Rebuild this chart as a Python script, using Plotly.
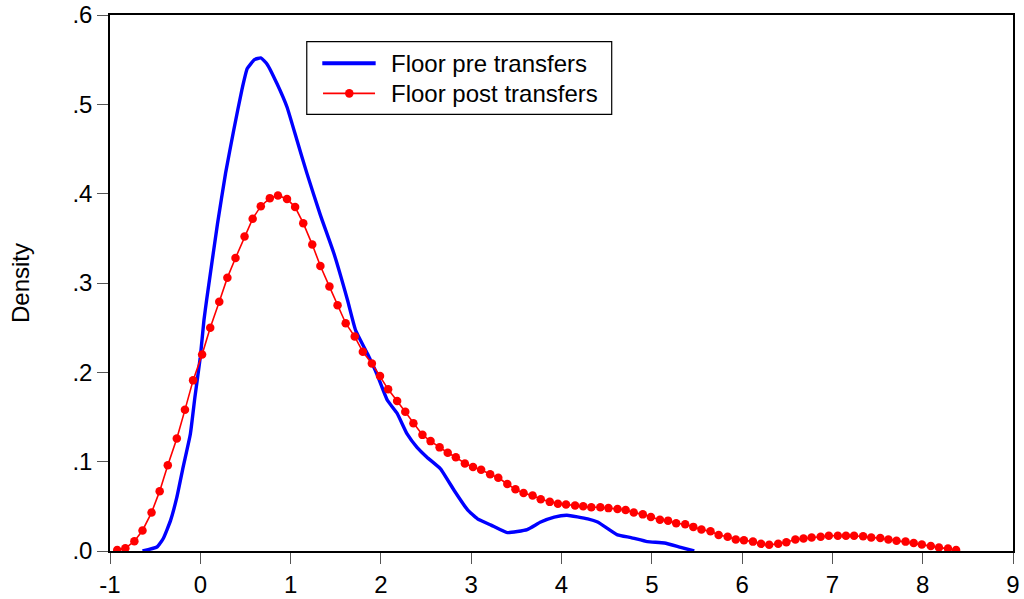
import plotly.graph_objects as go

# Blue: Floor pre transfers (kernel density)
pre_x = [-0.64, -0.48, -0.41, -0.33, -0.26, -0.19, -0.11, -0.06, 0.00, 0.04, 0.07, 0.19, 0.28, 0.37,
         0.46, 0.52, 0.60, 0.67, 0.74, 0.85, 0.96, 1.07, 1.18, 1.33, 1.48, 1.63, 1.72, 1.85, 1.96, 2.07, 2.18,
         2.29, 2.40, 2.51, 2.66, 2.81, 2.96, 3.07, 3.22, 3.40, 3.62, 3.77, 3.92, 4.06, 4.29, 4.40,
         4.62, 4.77, 4.95, 5.14, 5.32, 5.47]
pre_y = [0.000, 0.0045, 0.014, 0.034, 0.060, 0.094, 0.131, 0.172, 0.217, 0.258, 0.281, 0.366, 0.423,
         0.471, 0.516, 0.540, 0.550, 0.552, 0.545, 0.523, 0.497, 0.460, 0.423, 0.376, 0.333, 0.281, 0.247, 0.221,
         0.197, 0.169, 0.154, 0.131, 0.116, 0.105, 0.092, 0.068, 0.046, 0.036, 0.029, 0.0206, 0.024,
         0.0325, 0.038, 0.040, 0.036, 0.0325, 0.018, 0.015, 0.0105, 0.009, 0.004, 0.000]

# Red: Floor post transfers (kernel density evaluated on grid)
post_x = [-0.92, -0.83, -0.73, -0.64, -0.54, -0.45, -0.36, -0.26, -0.17, -0.08,
          0.02, 0.11, 0.21, 0.30, 0.39, 0.49, 0.58, 0.67, 0.77, 0.86,
          0.96, 1.05, 1.14, 1.24, 1.33, 1.43, 1.52, 1.61, 1.71, 1.80,
          1.90, 1.99, 2.08, 2.18, 2.27, 2.36, 2.46, 2.55, 2.65, 2.74,
          2.83, 2.93, 3.02, 3.11, 3.21, 3.30, 3.40, 3.49, 3.58, 3.68,
          3.77, 3.87, 3.96, 4.05, 4.15, 4.24, 4.33, 4.43, 4.52, 4.62,
          4.71, 4.80, 4.90, 4.99, 5.09, 5.18, 5.27, 5.37, 5.46, 5.55,
          5.65, 5.74, 5.84, 5.93, 6.02, 6.12, 6.21, 6.30, 6.40, 6.49,
          6.59, 6.68, 6.77, 6.87, 6.96, 7.06, 7.15, 7.24, 7.34, 7.43,
          7.53, 7.62, 7.71, 7.81, 7.90, 7.99, 8.09, 8.18, 8.28, 8.37]
post_y = [0.001, 0.003, 0.011, 0.023, 0.043, 0.067, 0.096, 0.126, 0.158, 0.191,
          0.220, 0.250, 0.279, 0.306, 0.328, 0.352, 0.372, 0.386, 0.395, 0.398,
          0.394, 0.385, 0.367, 0.343, 0.319, 0.296, 0.275, 0.255, 0.240, 0.223,
          0.210, 0.196, 0.181, 0.168, 0.156, 0.143, 0.130, 0.123, 0.116, 0.110,
          0.105, 0.098, 0.094, 0.091, 0.086, 0.082, 0.075, 0.069, 0.065, 0.062,
          0.058, 0.055, 0.053, 0.052, 0.051, 0.050, 0.049, 0.049, 0.048, 0.047,
          0.046, 0.043, 0.041, 0.038, 0.035, 0.034, 0.031, 0.030, 0.027, 0.024,
          0.022, 0.018, 0.016, 0.013, 0.012, 0.0105, 0.008, 0.007, 0.008, 0.0097,
          0.0128, 0.014, 0.015, 0.016, 0.017, 0.017, 0.017, 0.017, 0.0165, 0.015,
          0.0146, 0.013, 0.0116, 0.0105, 0.009, 0.0072, 0.0056, 0.004, 0.0027, 0.001]

x_ticks = [-1, 0, 1, 2, 3, 4, 5, 6, 7, 8, 9]
x_ticktext = ["-1", "0", "1", "2", "3", "4", "5", "6", "7", "8", "9"]
y_ticks = [0.0, 0.1, 0.2, 0.3, 0.4, 0.5, 0.6]
y_ticktext = [".0", ".1", ".2", ".3", ".4", ".5", ".6"]
series_names = ["Floor pre transfers", "Floor post transfers"]

FONT = "Liberation Sans, Arial, sans-serif"
FS = 24
BLUE = "#0000FF"
RED = "#FF0000"

fig = go.Figure()
fig.add_trace(go.Scatter(
    x=pre_x, y=pre_y, mode="lines", name=series_names[0],
    line=dict(color=BLUE, width=3.4, shape="spline", smoothing=0.4),
))
fig.add_trace(go.Scatter(
    x=post_x, y=post_y, mode="lines+markers", name=series_names[1],
    line=dict(color=RED, width=1.6),
    marker=dict(color=RED, size=8.5, line=dict(width=0)),
))

# Legend drawn as a boxed key (paper coordinates)
shapes = [
    dict(type="rect", xref="paper", yref="paper", x0=0.2179, x1=0.5556, y0=0.8146, y1=0.9502,
         line=dict(color="black", width=1.2), fillcolor="white", layer="above"),
    dict(type="line", xref="paper", yref="paper", x0=0.2351, x1=0.2942, y0=0.9098, y1=0.9098,
         line=dict(color=BLUE, width=4), layer="above"),
    dict(type="line", xref="paper", yref="paper", x0=0.2359, x1=0.2935, y0=0.8538, y1=0.8538,
         line=dict(color=RED, width=1.6), layer="above"),
    dict(type="circle", xref="paper", yref="paper",
         x0=0.2650 - 4.3 / 903, x1=0.2650 + 4.3 / 903,
         y0=0.8538 - 4.3 / 535.7, y1=0.8538 + 4.3 / 535.7,
         line=dict(width=0), fillcolor=RED, layer="above"),
]
annotations = [
    dict(text=series_names[0], xref="paper", yref="paper", x=0.3090, y=0.9098,
         xanchor="left", yanchor="middle", showarrow=False,
         font=dict(family=FONT, size=FS, color="black")),
    dict(text=series_names[1], xref="paper", yref="paper", x=0.3090, y=0.8538,
         xanchor="left", yanchor="middle", showarrow=False,
         font=dict(family=FONT, size=FS, color="black")),
]

fig.update_layout(
    width=1024, height=599,
    margin=dict(l=110, r=11, t=15, b=48, autoexpand=False),
    paper_bgcolor="white", plot_bgcolor="white",
    font=dict(family=FONT, size=FS, color="black"),
    showlegend=False,
    shapes=shapes,
    annotations=annotations,
)
fig.update_xaxes(
    range=[-1, 9], tickvals=x_ticks, ticktext=x_ticktext,
    showline=True, linecolor="black", linewidth=1.5, mirror=True,
    ticks="outside", ticklen=11, tickwidth=1, tickcolor="#555555",
    showgrid=False, zeroline=False, tickfont=dict(size=FS),
)
fig.update_yaxes(
    range=[0, 0.6], tickvals=y_ticks, ticktext=y_ticktext,
    showline=True, linecolor="black", linewidth=1.5, mirror=True,
    ticks="outside", ticklen=11, tickwidth=1, tickcolor="#555555",
    showgrid=False, zeroline=False, tickfont=dict(size=FS),
    title=dict(text="Density", font=dict(size=FS), standoff=36),
)

fig.write_html("out.html")
